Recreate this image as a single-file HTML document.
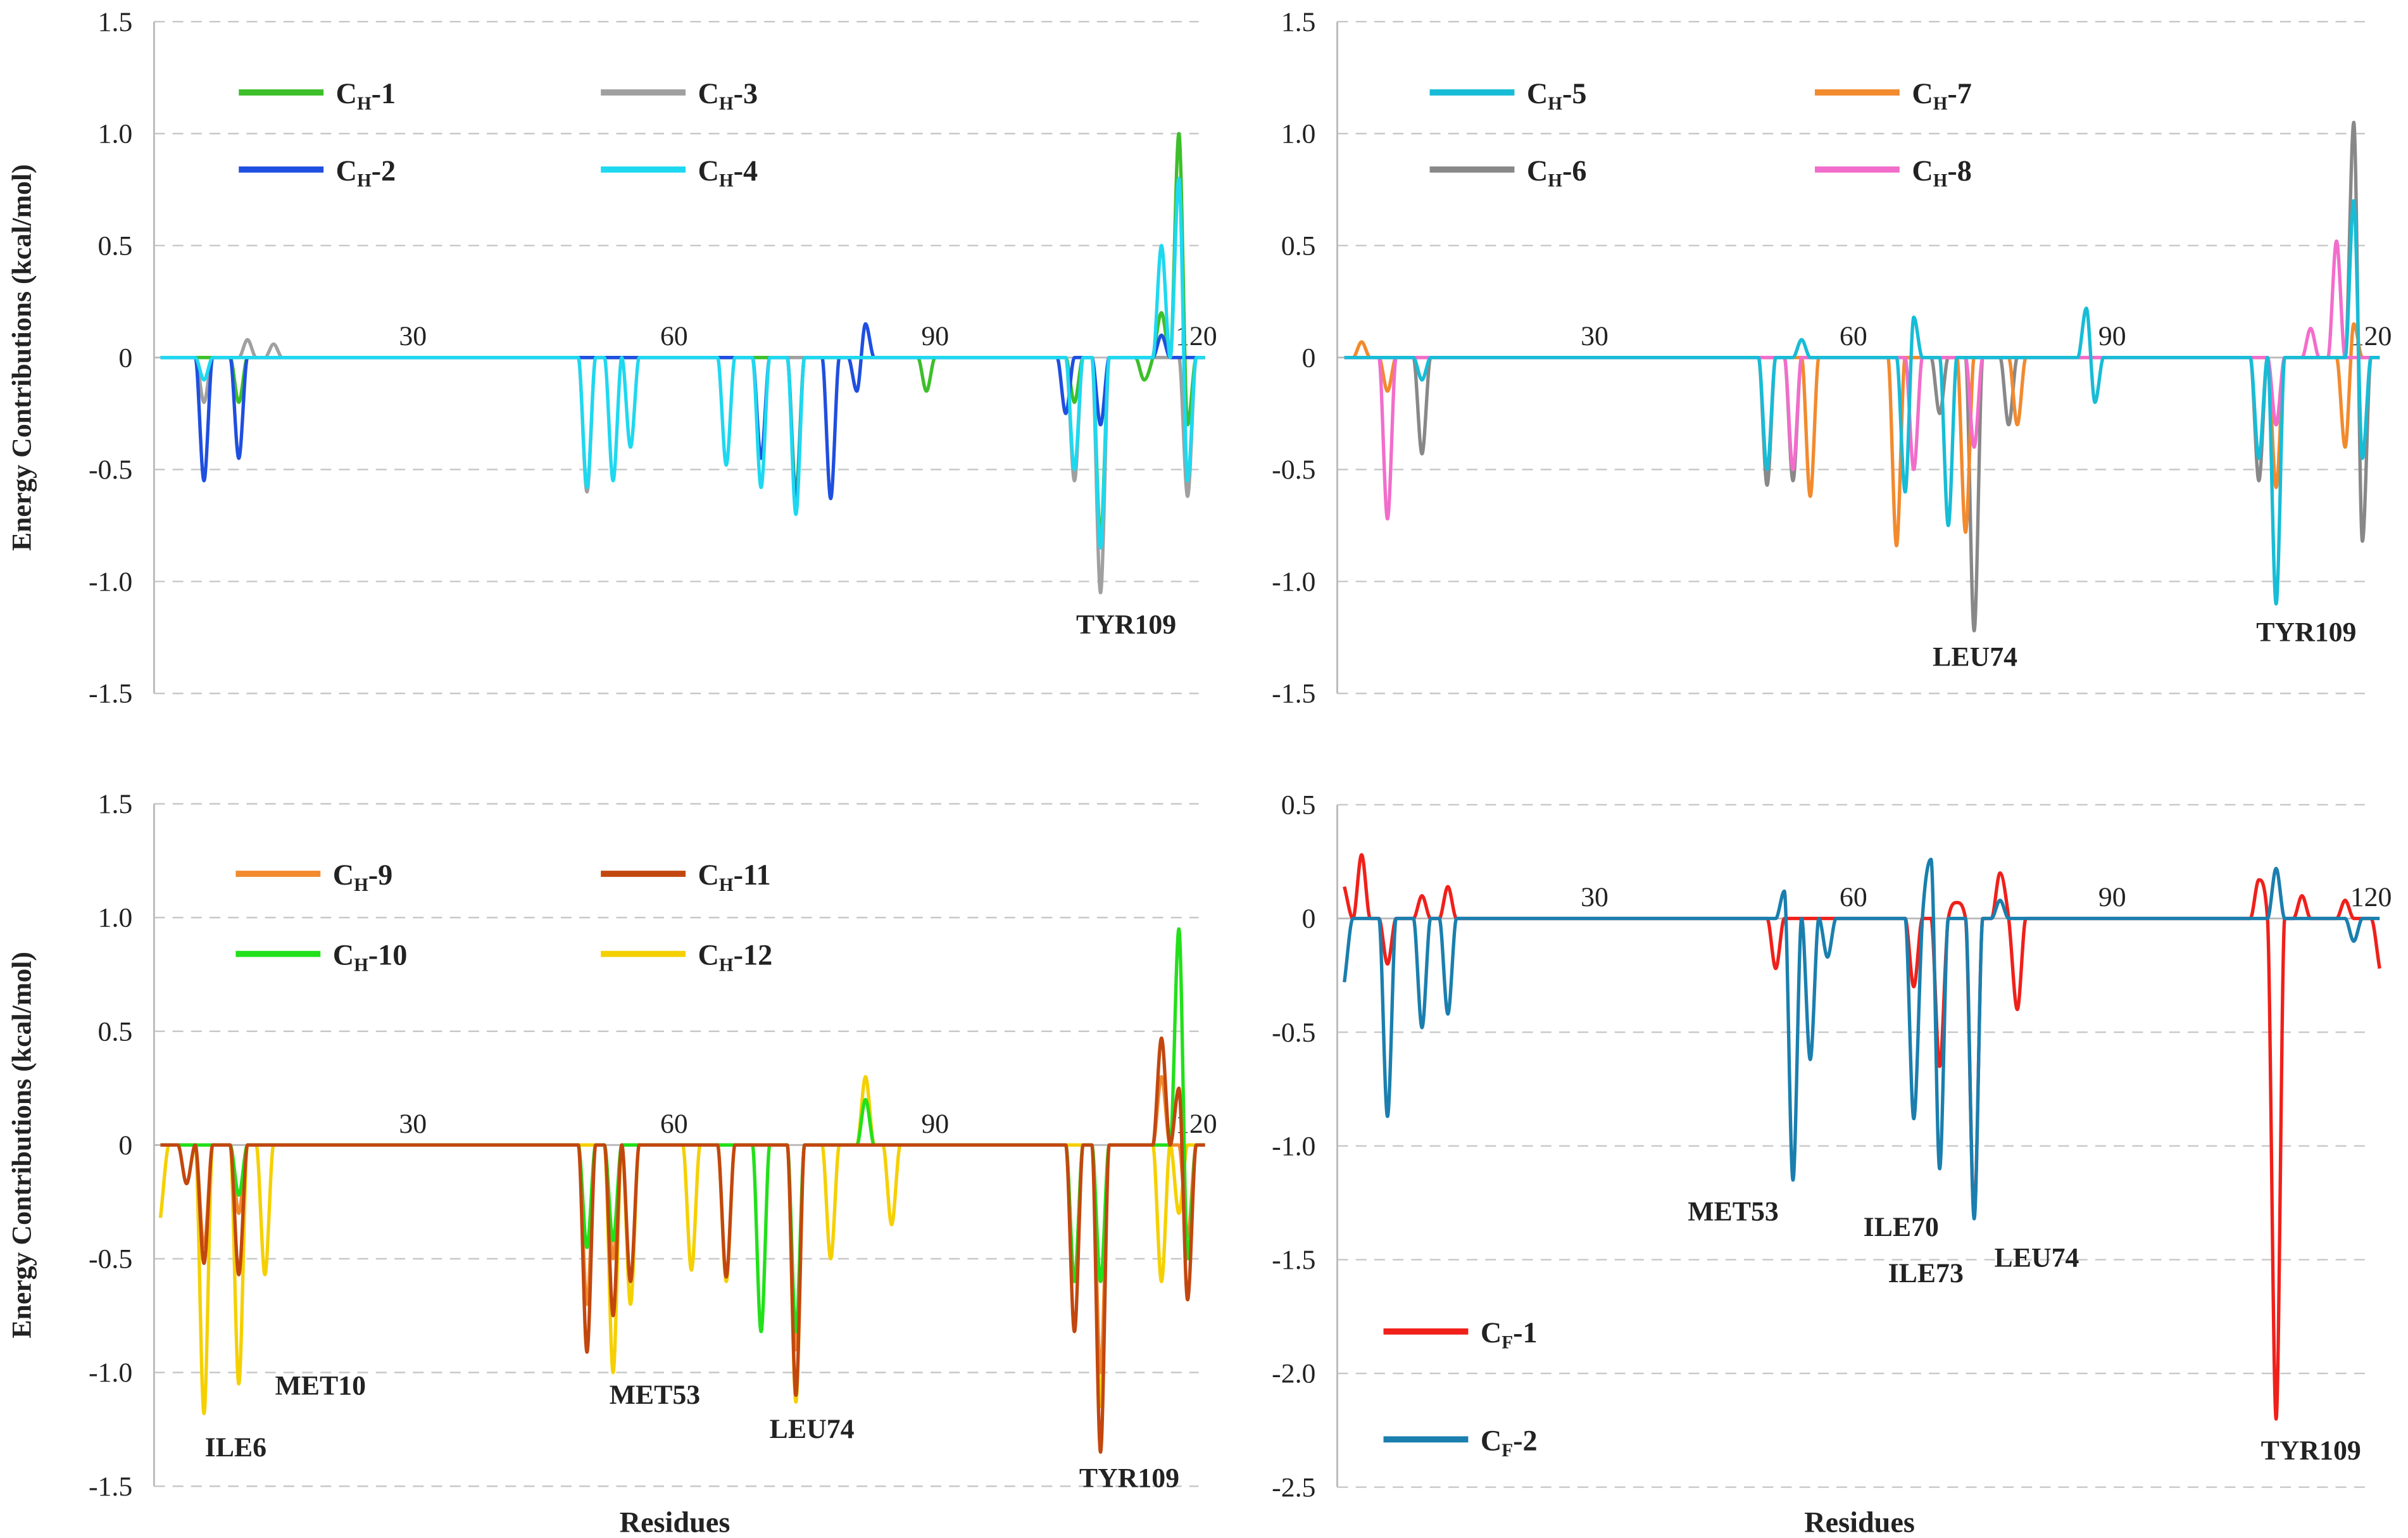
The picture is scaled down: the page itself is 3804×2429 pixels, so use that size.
<!DOCTYPE html>
<html><head><meta charset="utf-8"><style>
html,body{margin:0;padding:0;background:#fff}
svg{display:block}
text{font-family:"Liberation Serif",serif}
</style></head><body>
<svg id="chart" width="3804" height="2429" viewBox="0 0 1563 998" preserveAspectRatio="none" xmlns="http://www.w3.org/2000/svg"></svg>
<script>
// ---- data (sparse spikes: residue numbers and energy values, baseline 0 elsewhere) ----
const xTicks=[30,60,90,120];
const yTicksA=[1.5,1.0,0.5,0,-0.5,-1.0,-1.5];
const yTicksB=[0.5,0,-0.5,-1.0,-1.5,-2.0,-2.5];
// top-left
const ch1Res=[10,74,89,106,109,114,116,118,119];
const ch1Val=[-0.2,-0.6,-0.15,-0.2,-0.8,-0.1,0.2,1.0,-0.3];
const ch2Res=[6,10,70,74,78,81,82,105,109,116];
const ch2Val=[-0.55,-0.45,-0.45,-0.65,-0.63,-0.15,0.15,-0.25,-0.3,0.1];
const ch3Res=[6,11,14,50,106,109,119];
const ch3Val=[-0.2,0.08,0.06,-0.6,-0.55,-1.05,-0.62];
const ch4Res=[6,50,53,55,66,70,74,106,109,116,118,119];
const ch4Val=[-0.1,-0.58,-0.55,-0.4,-0.48,-0.58,-0.7,-0.5,-0.85,0.5,0.8,-0.55];
// top-right
const ch5Res=[10,50,54,66,67,71,87,88,107,109,118,119];
const ch5Val=[-0.1,-0.5,0.08,-0.6,0.18,-0.75,0.22,-0.2,-0.45,-1.1,0.7,-0.45];
const ch6Res=[10,50,53,70,74,78,107,109,118,119];
const ch6Val=[-0.43,-0.57,-0.55,-0.25,-1.22,-0.3,-0.55,-0.3,1.05,-0.82];
const ch7Res=[3,6,55,65,73,79,109,117,118];
const ch7Val=[0.07,-0.15,-0.62,-0.84,-0.78,-0.3,-0.58,-0.4,0.15];
const ch8Res=[6,53,67,74,109,113,116];
const ch8Val=[-0.72,-0.5,-0.5,-0.4,-0.3,0.13,0.52];
// bottom-left
const ch9Res=[6,10,50,53,74,106,109,116,119];
const ch9Val=[-0.45,-0.3,-0.7,-0.5,-0.9,-0.6,-1.0,0.3,-0.4];
const ch10Res=[10,50,53,70,74,82,106,109,118,119];
const ch10Val=[-0.22,-0.45,-0.42,-0.82,-0.82,0.2,-0.6,-0.6,0.95,-0.5];
const ch11Res=[4,6,10,50,53,55,66,74,106,109,116,118,119];
const ch11Val=[-0.17,-0.52,-0.57,-0.91,-0.75,-0.6,-0.58,-1.1,-0.82,-1.35,0.47,0.25,-0.68];
const ch12Res=[1,6,10,13,53,55,62,66,74,78,82,85,109,116,118];
const ch12Val=[-0.32,-1.18,-1.05,-0.57,-1.0,-0.7,-0.55,-0.6,-1.13,-0.5,0.3,-0.35,-1.15,-0.6,-0.3];
// bottom-right
const cf1Res=[1,3,6,10,13,51,67,70,72,74,77,79,107,109,112,117,121];
const cf1Val=[0.14,0.28,-0.2,0.1,0.14,-0.22,-0.3,-0.65,0.07,-1.3,0.2,-0.4,0.17,-2.2,0.1,0.08,-0.22];
const cf2Res=[1,6,10,13,52,53,55,57,67,69,70,74,77,109,118];
const cf2Val=[-0.28,-0.87,-0.48,-0.42,0.12,-1.15,-0.62,-0.17,-0.88,0.26,-1.1,-1.32,0.08,0.22,-0.1];

const NS="http://www.w3.org/2000/svg";
const svg=document.getElementById('chart');
function mk(tag,attrs,parent){const e=document.createElementNS(NS,tag);for(const k in attrs)e.setAttribute(k,attrs[k]);(parent||svg).appendChild(e);return e;}

function monotonePath(pts){
  const n=pts.length,dx=[],m=[],t=[];
  for(let i=0;i<n-1;i++){dx.push(pts[i+1][0]-pts[i][0]);m.push((pts[i+1][1]-pts[i][1])/dx[i]);}
  t[0]=m[0];t[n-1]=m[n-2];
  for(let i=1;i<n-1;i++){t[i]=(m[i-1]*m[i]<=0)?0:(m[i-1]+m[i])/2;}
  for(let i=0;i<n-1;i++){
    if(m[i]===0){t[i]=0;t[i+1]=0;continue;}
    const a=t[i]/m[i],b=t[i+1]/m[i],s=a*a+b*b;
    if(s>9){const k=3/Math.sqrt(s);t[i]=k*a*m[i];t[i+1]=k*b*m[i];}
  }
  let d='M'+pts[0][0].toFixed(2)+','+pts[0][1].toFixed(2);
  for(let i=0;i<n-1;i++){
    const h=dx[i]/3;
    d+=' C'+(pts[i][0]+h).toFixed(2)+','+(pts[i][1]+t[i]*h).toFixed(2)+' '+(pts[i+1][0]-h).toFixed(2)+','+(pts[i+1][1]-t[i+1]*h).toFixed(2)+' '+pts[i+1][0].toFixed(2)+','+pts[i+1][1].toFixed(2);
  }
  return d;
}

function panel(p){
  const g=mk('g',{});
  
  
  const xS=r=>p.x0+p.dx*r;
  const yS=v=>p.yZero-v*p.ppu;
  p.yTicks.forEach(t=>{
    const y=yS(t);
    if(t!==0){const l=mk('line',{x1:p.left,x2:p.right,y1:y,y2:y,stroke:'#c8c8c8','stroke-width':1,'stroke-dasharray':'7,5'},g);
      
      }
    const tx=mk('text',{x:p.left-14,y:y+6,'text-anchor':'end','font-size':18,fill:'#222'},g);
    tx.textContent=t===0?'0':t.toFixed(1);
    
    
  });
  const zl=mk('line',{x1:p.left,x2:p.right,y1:yS(0),y2:yS(0),stroke:'#bbb','stroke-width':1.2},g);
  
  
  const ya=mk('line',{x1:p.left,x2:p.left,y1:yS(p.yTicks[0]),y2:yS(p.yTicks[p.yTicks.length-1]),stroke:'#bbb','stroke-width':1.2},g);
  
  
  xTicks.forEach(t=>{
    const tx=mk('text',{x:xS(t),y:yS(0)-8,'text-anchor':'middle','font-size':18,fill:'#222'},g);
    tx.textContent=t;
    
    
  });
  p.series.forEach(s=>{
    const vals=[];for(let r=1;r<=121;r++)vals.push(0);
    s.res.forEach((r,i)=>{vals[r-1]=s.val[i];});
    const pts=vals.map((v,i)=>[xS(i+1),yS(v)]);
    const path=mk('path',{d:monotonePath(pts),fill:'none',stroke:s.color,'stroke-width':2.2},g);
    
    
  });
  p.legend.forEach(L=>{
    const ln=mk('line',{x1:L.x,x2:L.x+55,y1:L.y,y2:L.y,stroke:L.color,'stroke-width':4},g);
    
    
    const tx=mk('text',{x:L.x+63,y:L.y+7,'font-size':19,'font-weight':'bold',fill:'#222'},g);
    tx.innerHTML='C<tspan font-size="12" dy="4">'+L.sub+'</tspan><tspan dy="-4">-'+L.num+'</tspan>';
    
    
  });
  p.notes.forEach(n=>{
    const tx=mk('text',{x:n[1],y:n[2],'text-anchor':'middle','font-size':18,'font-weight':'bold',fill:'#222'},g);
    tx.textContent=n[0];
    
    
  });
}

panel({name:'panel-ch1-4',left:100,right:778,x0:98.5,dx:5.65,yZero:232,ppu:145.3,yTicks:yTicksA,
 series:[{id:'ch3',res:ch3Res,val:ch3Val,color:'#a0a0a0'},{id:'ch1',res:ch1Res,val:ch1Val,color:'#3dbf2a'},{id:'ch2',res:ch2Res,val:ch2Val,color:'#1f4fe0'},{id:'ch4',res:ch4Res,val:ch4Val,color:'#1ed8f0'}],
 legend:[{x:155,y:60,color:'#3dbf2a',sub:'H',num:1},{x:390,y:60,color:'#a0a0a0',sub:'H',num:3},{x:155,y:110,color:'#1f4fe0',sub:'H',num:2},{x:390,y:110,color:'#1ed8f0',sub:'H',num:4}],
 notes:[['TYR109',731,411]]});
panel({name:'panel-ch5-8',left:868,right:1540,x0:867,dx:5.6,yZero:232,ppu:145.3,yTicks:yTicksA,
 series:[{id:'ch6',res:ch6Res,val:ch6Val,color:'#888888'},{id:'ch7',res:ch7Res,val:ch7Val,color:'#f28a2e'},{id:'ch8',res:ch8Res,val:ch8Val,color:'#f26dcb'},{id:'ch5',res:ch5Res,val:ch5Val,color:'#17bcd6'}],
 legend:[{x:928,y:60,color:'#17bcd6',sub:'H',num:5},{x:1178,y:60,color:'#f28a2e',sub:'H',num:7},{x:928,y:110,color:'#888888',sub:'H',num:6},{x:1178,y:110,color:'#f26dcb',sub:'H',num:8}],
 notes:[['LEU74',1282,432],['TYR109',1497,416]]});
panel({name:'panel-ch9-12',left:100,right:778,x0:98.5,dx:5.65,yZero:743,ppu:147.6,yTicks:yTicksA,
 series:[{id:'ch12',res:ch12Res,val:ch12Val,color:'#f5d000'},{id:'ch9',res:ch9Res,val:ch9Val,color:'#f28a2e'},{id:'ch10',res:ch10Res,val:ch10Val,color:'#22e01a'},{id:'ch11',res:ch11Res,val:ch11Val,color:'#c2470f'}],
 legend:[{x:153,y:567,color:'#f28a2e',sub:'H',num:9},{x:390,y:567,color:'#c2470f',sub:'H',num:11},{x:153,y:619,color:'#22e01a',sub:'H',num:10},{x:390,y:619,color:'#f5d000',sub:'H',num:12}],
 notes:[['ILE6',153,945],['MET10',208,905],['MET53',425,911],['LEU74',527,933],['TYR109',733,965]]});
panel({name:'panel-cf1-2',left:868,right:1540,x0:867,dx:5.6,yZero:596,ppu:147.6,yTicks:yTicksB,
 series:[{id:'cf1',res:cf1Res,val:cf1Val,color:'#f0201a'},{id:'cf2',res:cf2Res,val:cf2Val,color:'#1a7fae'}],
 legend:[{x:898,y:864,color:'#f0201a',sub:'F',num:1},{x:898,y:934,color:'#1a7fae',sub:'F',num:2}],
 notes:[['MET53',1125,792],['ILE70',1234,802],['ILE73',1250,832],['LEU74',1322,822],['TYR109',1500,947]]});

[[438,'x-axis-title-left'],[1207,'x-axis-title-right']].forEach(a=>{
  const t=mk('text',{x:a[0],y:994,'text-anchor':'middle','font-size':19,'font-weight':'bold',fill:'#222'});
  t.textContent='Residues';
  
  
});
[[232,'y-axis-title-top'],[743,'y-axis-title-bottom']].forEach(a=>{
  const t=mk('text',{x:0,y:0,transform:'translate(20,'+a[0]+') rotate(-90)','text-anchor':'middle','font-size':18,'font-weight':'bold',fill:'#222'});
  t.textContent='Energy Contributions (kcal/mol)';
  
  
});
</script>
</body></html>
